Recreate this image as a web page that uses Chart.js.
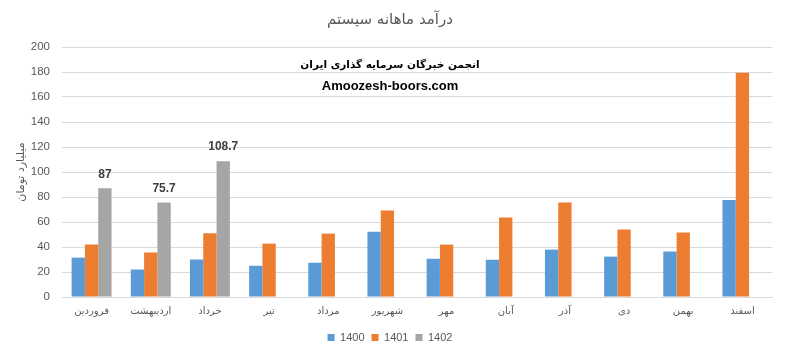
<!DOCTYPE html>
<html>
<head>
<meta charset="utf-8">
<script src="https://cdn.jsdelivr.net/npm/chart.js@4"></script>
<style>
  html, body { margin: 0; padding: 0; background: #fff; }
  #wrap { width: 786px; height: 354px; position: relative; }
</style>
</head>
<body>
<div id="wrap"><canvas id="chart"></canvas></div>
<script>
// months (Persian calendar)
const months = ['فروردین', 'اردیبهشت', 'خرداد', 'تیر', 'مرداد', 'شهریور', 'مهر', 'آبان', 'آذر', 'دی', 'بهمن', 'اسفند'];
const rev1400 = [31.5, 22, 30, 25, 27.4, 52.3, 30.6, 29.8, 37.9, 32.3, 36.4, 77.6];
const rev1401 = [42, 35.6, 51, 42.7, 50.7, 69.3, 41.9, 63.6, 75.7, 54, 51.7, 179.5];
const rev1402 = [87, 75.7, 108.7, null, null, null, null, null, null, null, null, null];
const yTicks = [0, 20, 40, 60, 80, 100, 120, 140, 160, 180, 200];

const fontFam = "'Liberation Sans', 'DejaVu Sans', sans-serif";
const grey = '#595959';

// labels above the 1402 bars + the watermark text
const extras = {
    id: 'extras',
    afterDatasetsDraw(chart) {
        const ctx = chart.ctx;
        const meta = chart.getDatasetMeta(2);
        ctx.save();
        ctx.font = "bold 12px " + fontFam;
        ctx.fillStyle = '#404040';
        ctx.textAlign = 'center';
        ctx.textBaseline = 'bottom';
        meta.data.forEach((bar, i) => {
            if (rev1402[i] == null) return;
            ctx.fillText(String(rev1402[i]), bar.x, bar.y - 8);
        });
        ctx.fillStyle = '#000';
        ctx.textBaseline = 'middle';
        ctx.font = "bold 10.5px 'DejaVu Sans', sans-serif";
        ctx.fillText('انجمن خبرگان سرمایه گذاری ایران', 390, 65);
        ctx.font = "bold 13px 'Liberation Sans', sans-serif";
        ctx.fillText('Amoozesh-boors.com', 390, 86);
        ctx.restore();
    }
};

new Chart(document.getElementById('chart'), {
    type: 'bar',
    data: {
        labels: months,
        datasets: [
            { label: '1400', data: rev1400, backgroundColor: '#5B9BD5' },
            { label: '1401', data: rev1401, backgroundColor: '#ED7D31' },
            { label: '1402', data: rev1402, backgroundColor: '#A5A5A5' }
        ]
    },
    plugins: [extras],
    options: {
        responsive: true,
        maintainAspectRatio: false,
        animation: false,
        datasets: { bar: { categoryPercentage: 0.675, barPercentage: 1 } },
        layout: { padding: { top: 6, right: 14, bottom: 1, left: 8 } },
        plugins: {
            title: {
                display: true,
                text: 'درآمد ماهانه سیستم',
                color: grey,
                font: { family: "'DejaVu Sans', sans-serif", size: 15, weight: 'normal' },
                padding: { top: 5, bottom: 18 }
            },
            legend: {
                position: 'bottom',
                labels: { boxWidth: 7, boxHeight: 7, color: grey, font: { family: fontFam, size: 11 }, padding: 7 }
            },
            tooltip: { enabled: false }
        },
        scales: {
            x: {
                grid: { display: false },
                border: { color: '#d9d9d9' },
                afterFit: axis => { axis.height = axis.height + 8; },
                ticks: { color: grey, font: { family: "'DejaVu Sans', sans-serif", size: 10 }, maxRotation: 0, autoSkip: false, padding: 0 }
            },
            y: {
                min: 0,
                max: 200,
                afterBuildTicks: axis => { axis.ticks = yTicks.map(v => ({ value: v })); },
                afterFit: axis => { axis.width = 54; },
                grid: { color: '#d9d9d9', drawTicks: false },
                border: { display: false },
                ticks: { color: grey, font: { family: fontFam, size: 11.5 }, padding: 12 },
                title: {
                    display: true,
                    text: 'میلیارد تومان',
                    color: grey,
                    font: { family: "'DejaVu Sans', sans-serif", size: 11 },
                    padding: { top: 7, bottom: 0 }
                }
            }
        }
    }
});
</script>
</body>
</html>
